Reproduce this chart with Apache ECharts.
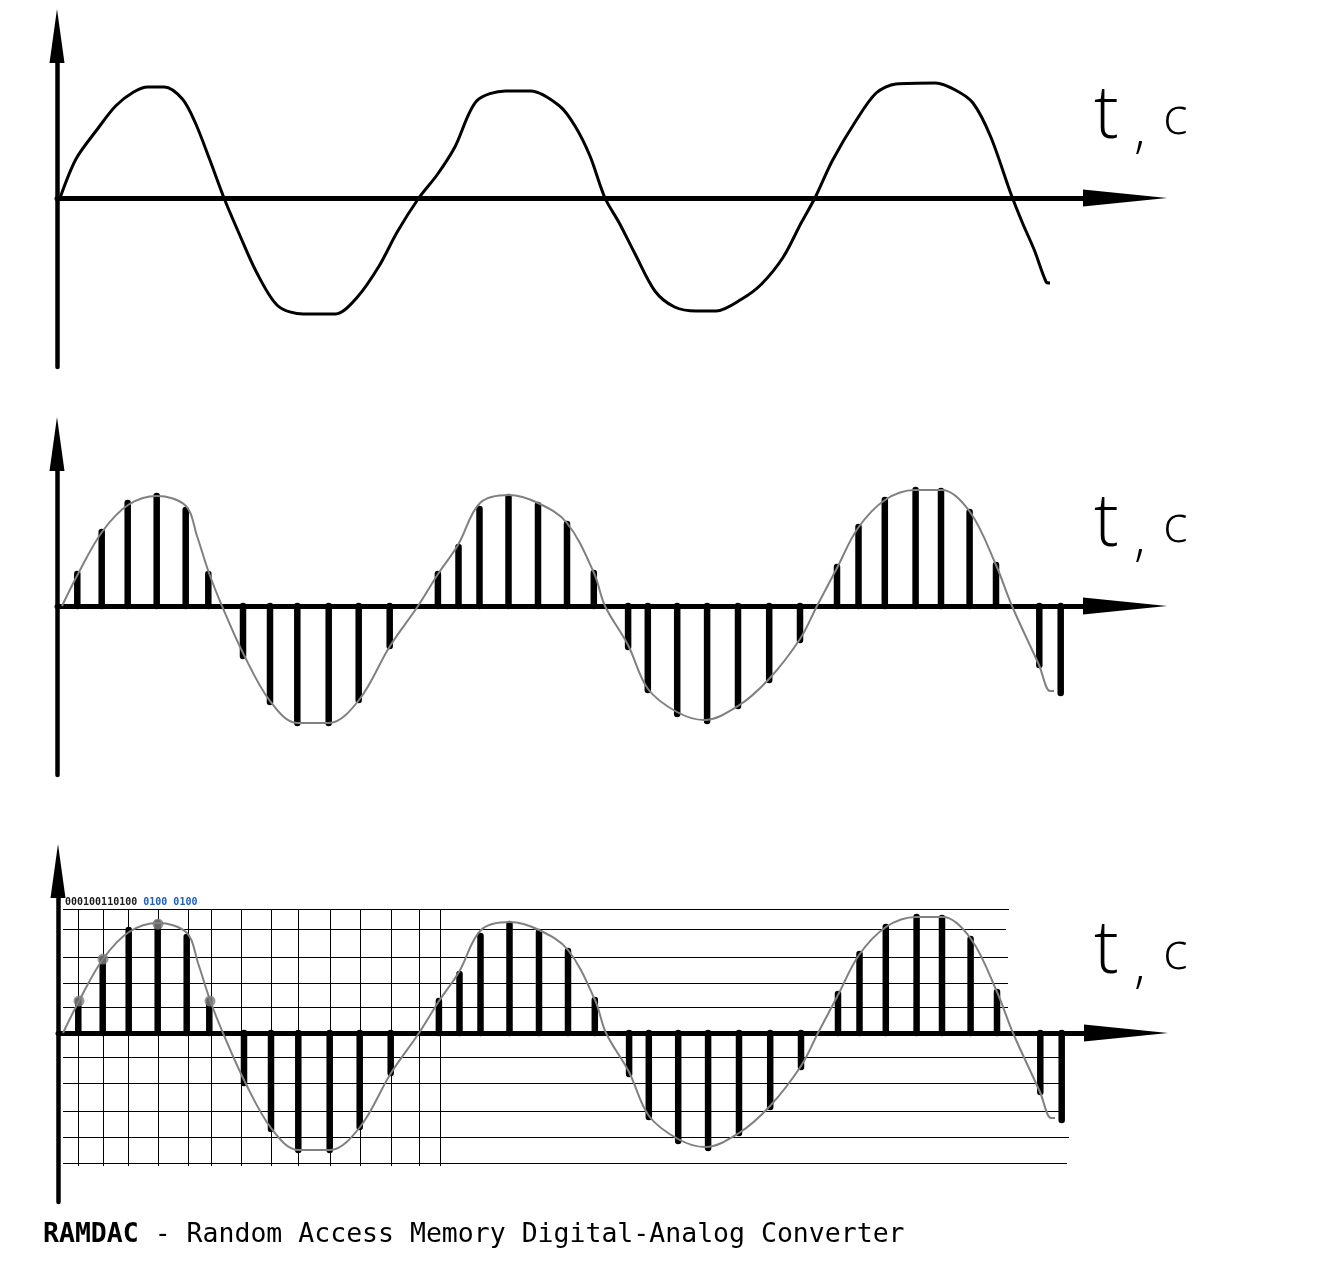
<!DOCTYPE html>
<html>
<head>
<meta charset="utf-8">
<script src="https://cdn.jsdelivr.net/npm/echarts@6/dist/echarts.min.js"></script>
<style>
html,body{margin:0;padding:0;background:#ffffff;}
#chart{width:1336px;height:1288px;}
</style>
</head>
<body>
<div id="chart"></div>
<script>
// ---------- data (time t in arbitrary units, amplitude a) ----------
// Panel 1: continuous analog signal
const analogT = [0.3, 1.9, 4.05, 5.86, 7.66, 9.1, 10.73, 12.54, 13.8, 15.25, 16.7, 18.14, 19.94, 22.1, 24.63, 27.88, 30.04, 32.21, 34.02, 36.18, 38.0, 39.79, 41.96, 44.85, 47.37, 50.26, 51.8, 53.3, 54.8, 56.23, 57.81, 59.79, 61.76, 63.94, 65.91, 68.48, 70.46, 72.63, 74.41, 75.79, 77.57, 79.94, 81.92, 83.9, 87.85, 89.83, 91.6, 93.38, 95.36, 96.55, 97.73, 98.92, 99.3];
const analogA = [0, 0.39, 0.69, 0.92, 1.06, 1.11, 1.11, 0.99, 0.76, 0.39, 0, -0.34, -0.74, -1.08, -1.16, -1.16, -0.99, -0.68, -0.34, 0, 0.23, 0.51, 0.97, 1.07, 1.07, 0.92, 0.72, 0.42, 0, -0.25, -0.56, -0.93, -1.09, -1.13, -1.13, -1.01, -0.86, -0.59, -0.25, 0, 0.38, 0.78, 1.05, 1.14, 1.15, 1.08, 0.95, 0.61, 0.05, -0.25, -0.52, -0.84, -0.85];

// Panels 2 and 3: reference curve (grey)
const curveT = [0.5, 2.1, 4.5, 7.1, 10.0, 12.9, 14.0, 15.2, 16.5, 18.6, 21.3, 24.0, 27.2, 30.2, 33.3, 36.1, 38.1, 40.1, 42.3, 45.2, 48.1, 51.0, 53.7, 54.8, 57.1, 59.1, 62.0, 64.7, 68.1, 71.2, 74.3, 76.0, 78.0, 80.1, 82.8, 85.8, 88.5, 91.3, 93.9, 95.5, 98.2, 99.3, 99.7];
const curveA = [0, 0.32, 0.74, 1.01, 1.10, 1.0, 0.70, 0.33, 0, -0.47, -0.95, -1.17, -1.17, -0.94, -0.40, 0, 0.32, 0.61, 1.03, 1.11, 1.03, 0.83, 0.33, 0, -0.39, -0.83, -1.06, -1.14, -1.0, -0.73, -0.33, 0, 0.38, 0.78, 1.06, 1.16, 1.16, 0.94, 0.41, 0, -0.59, -0.85, -0.85];

// Samples (stems)
const sampleT = [2.03, 4.47, 7.07, 9.97, 12.87, 15.13, 18.6, 21.3, 24.03, 27.17, 30.17, 33.27, 38.09, 40.15, 42.25, 45.15, 48.1, 51.0, 53.68, 57.11, 59.08, 62.02, 65.01, 68.1, 71.22, 74.3, 78.0, 80.15, 82.78, 85.86, 88.4, 91.26, 93.9, 98.23, 100.37];
const sampleA = [0.32, 0.74, 1.03, 1.10, 0.96, 0.32, -0.50, -0.96, -1.17, -1.17, -0.94, -0.40, 0.32, 0.59, 0.97, 1.09, 1.01, 0.82, 0.33, -0.41, -0.84, -1.08, -1.15, -1.0, -0.74, -0.34, 0.39, 0.79, 1.06, 1.16, 1.15, 0.94, 0.41, -0.59, -0.87];

// Panel 3: quantisation levels and their right ends
const levels = [1.24, 1.04, 0.76, 0.50, 0.26, -0.24, -0.50, -0.78, -1.04, -1.30];
const levelEnds = [95.1, 94.8, 95.0, 95.0, 95.0, 100.1, 100.1, 100.1, 101.1, 100.9];
const levelStart = 0.47;
// Panel 3: vertical grid lines
const vGridT = [2.03, 4.47, 7.03, 9.97, 13.03, 15.3, 18.33, 21.33, 24.03, 27.17, 30.17, 33.33, 36.07, 38.23];
const vGridTop = 1.24, vGridBottom = -1.33;
// Panel 3: highlighted sample points
const markT = [2.1, 4.5, 10.0, 15.2];
const markA = [0.32, 0.74, 1.09, 0.32];

// Texts
const codeDark = '000100110100';
const codeBlue = '0100 0100';
const axisNameT = 't';
const axisNameComma = ',';
const axisNameUnit = 'с';
const captionBold = 'RAMDAC';
const captionRest = ' - Random Access Memory Digital-Analog Converter';

// ---------- helpers ----------
const zip = (xs, ys) => xs.map((x, i) => [x, ys[i]]);
const X_MAX = 106.8, Y_MIN = -1.69, Y_MAX = 1.62;
const gridTops = [36, 444, 871];
const gridLefts = [57, 57, 58];
const crisp = v => Math.round(v) + 0.5;

const grids = gridTops.map((t, i) => ({ left: gridLefts[i], top: t, width: 1068, height: 331 }));
const xAxes = gridTops.map((t, i) => ({
  gridIndex: i, type: 'value', min: 0, max: X_MAX,
  axisLine: { show: true, onZero: true, symbol: ['none', 'triangle'], symbolSize: [17, 84],
    lineStyle: { color: '#000', width: 5 } },
  axisTick: { show: false }, axisLabel: { show: false }, splitLine: { show: false }
}));
const yAxes = gridTops.map((t, i) => ({
  gridIndex: i, type: 'value', min: Y_MIN, max: Y_MAX,
  axisLine: { show: true, onZero: false, symbol: ['none', 'triangle'], symbolSize: [15, 54],
    lineStyle: { color: '#000', width: 4.5 } },
  axisTick: { show: false }, axisLabel: { show: false }, splitLine: { show: false }
}));

function stemSeries(idx) {
  return {
    type: 'custom', xAxisIndex: idx, yAxisIndex: idx, z: 4,
    data: zip(sampleT, sampleA),
    renderItem: function (params, api) {
      const p0 = api.coord([api.value(0), 0]);
      const p1 = api.coord([api.value(0), api.value(1)]);
      return { type: 'line', shape: { x1: p0[0], y1: p0[1], x2: p1[0], y2: p1[1] },
        style: { stroke: '#000', lineWidth: 6.5, lineCap: 'round' } };
    }
  };
}
function greyCurve(idx) {
  return {
    type: 'line', xAxisIndex: idx, yAxisIndex: idx, z: 5,
    data: zip(curveT, curveA), smooth: 0.35, showSymbol: false,
    lineStyle: { color: '#808080', width: 2 }
  };
}

const series = [
  { type: 'line', xAxisIndex: 0, yAxisIndex: 0, data: zip(analogT, analogA),
    smooth: 0.3, showSymbol: false, lineStyle: { color: '#000', width: 3, join: 'round' } },
  greyCurve(1),
  stemSeries(1),
  { type: 'custom', xAxisIndex: 2, yAxisIndex: 2, z: 1,
    data: levels.map((l, i) => [levelStart, levelEnds[i], l]),
    renderItem: function (params, api) {
      const a = api.coord([api.value(0), api.value(2)]);
      const b = api.coord([api.value(1), api.value(2)]);
      const y = crisp(a[1]);
      return { type: 'line', shape: { x1: Math.round(a[0]), y1: y, x2: Math.round(b[0]), y2: y },
        style: { stroke: '#000', lineWidth: 1 } };
    } },
  { type: 'custom', xAxisIndex: 2, yAxisIndex: 2, z: 1,
    data: vGridT.map(t => [t, vGridTop, vGridBottom]),
    renderItem: function (params, api) {
      const a = api.coord([api.value(0), api.value(1)]);
      const b = api.coord([api.value(0), api.value(2)]);
      const x = crisp(a[0]);
      return { type: 'line', shape: { x1: x, y1: Math.round(a[1]), x2: x, y2: Math.round(b[1]) },
        style: { stroke: '#000', lineWidth: 1 } };
    } },
  stemSeries(2),
  greyCurve(2),
  { type: 'scatter', xAxisIndex: 2, yAxisIndex: 2, z: 6, data: zip(markT, markA),
    symbol: 'circle', symbolSize: 11, itemStyle: { color: '#808080' } }
];

// label "t, с": baseline of t
function axisName(baseline) {
  const font = { fontFamily: 'Open Sans', fontWeight: 300, fill: '#000', verticalAlign: 'middle', align: 'left' };
  return [
    { type: 'text', x: 1094, y: baseline - 25, z: 10,
      style: Object.assign({ text: axisNameT, fontSize: 74 }, font) },
    { type: 'text', x: 1134, y: baseline - 10, z: 10,
      style: Object.assign({ text: axisNameComma, fontSize: 54 }, font) },
    { type: 'text', x: 1163, y: baseline - 23, z: 10,
      style: Object.assign({ text: axisNameUnit, fontSize: 52 }, font) }
  ];
}

const graphic = [].concat(
  axisName(142), axisName(550), axisName(977),
  [
    { type: 'text', x: 65, y: 902, z: 10,
      style: { text: '{d|' + codeDark + '} {b|' + codeBlue + '}',
        fontFamily: 'DejaVu Sans Mono', fontSize: 10, verticalAlign: 'middle',
        rich: { d: { fill: '#1a1a1a', fontFamily: 'DejaVu Sans Mono', fontSize: 10, fontWeight: 'bold' },
                b: { fill: '#1f5fb8', fontFamily: 'DejaVu Sans Mono', fontSize: 10, fontWeight: 'bold' } } } },
    { type: 'text', x: 43, y: 1235, z: 10,
      style: { text: '{b|' + captionBold + '}' + captionRest,
        fontFamily: 'DejaVu Sans Mono', fontSize: 26.5, fill: '#000', verticalAlign: 'middle',
        rich: { b: { fontWeight: 'bold', fontFamily: 'DejaVu Sans Mono', fontSize: 26.5, fill: '#000' } } } }
  ]
);

const chart = echarts.init(document.getElementById('chart'), null, { renderer: 'canvas' });
chart.setOption({
  animation: false,
  backgroundColor: '#ffffff',
  grid: grids, xAxis: xAxes, yAxis: yAxes,
  series: series,
  graphic: graphic
});
</script>
</body>
</html>
